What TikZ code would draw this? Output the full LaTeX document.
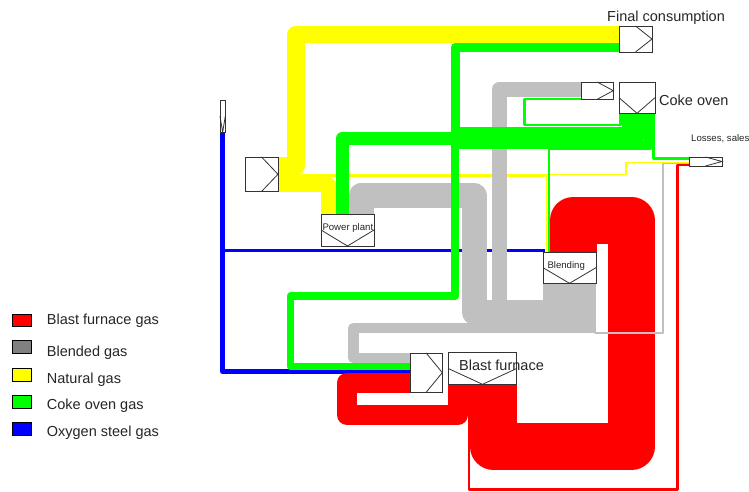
\documentclass[tikz,border=0pt]{standalone}
\usepackage{fontspec}
\setmainfont{Liberation Sans}
\definecolor{sred}{HTML}{FF0000}
\definecolor{sgray}{HTML}{C0C0C0}
\definecolor{syel}{HTML}{FFFF00}
\definecolor{sgreen}{HTML}{00FF00}
\definecolor{sblue}{HTML}{0000FF}
\definecolor{lgray}{HTML}{808080}
\begin{document}
\begin{tikzpicture}[x=1pt,y=-1pt,
  flow/.style={line join=round, line cap=butt},
  box/.style={draw=black!80, line width=0.8pt, fill=white, inner sep=0pt, outer sep=0pt, anchor=north west, rectangle},
  glyph/.style={draw=black!80, line width=0.8pt},
  big/.style={font=\fontsize{14.5}{16}\selectfont, text=black!85, inner sep=0pt, anchor=base west},
  small/.style={font=\fontsize{9.6}{11}\selectfont, text=black!85, inner sep=0pt, anchor=base west},
  legbox/.style={draw=black, line width=0.9pt, inner sep=0pt, outer sep=0pt, anchor=north west, minimum width=18.7pt, minimum height=12.7pt}]
\useasboundingbox (0,0) rectangle (749,491);
\fill[white] (0,0) rectangle (749,491);

% ---- blue (oxygen steel gas)
\draw[flow, sblue, line width=4.5] (222.5,132) -- (222.5,371.5) -- (410,371.5);
\draw[flow, sblue, line width=2.6] (222.5,132) -- (222.5,250.5) -- (545,250.5);

% ---- yellow (natural gas)
\draw[flow, syel, line width=17.5] (277,166) -- (296,166) -- (296,34.5) -- (619,34.5);
\draw[flow, syel, line width=1.5] (277,174.6) -- (626,174.6) -- (626,162.3) -- (689,162.3);
\draw[flow, syel, line width=1.5] (277,176.2) -- (546.5,176.2) -- (546.5,252);
\draw[flow, syel, line width=15] (277,184.5) -- (328,184.5) -- (328,214);

% ---- red (blast furnace gas)
\draw[flow, sred, line width=47] (493.5,384) -- (493.5,446.5) -- (631.5,446.5) -- (631.5,220.5) -- (573,220.5) -- (573,252);
\draw[flow, sred, line width=20] (458,384) -- (458,415) -- (347,415) -- (347,382.5) -- (410,382.5);
\draw[flow, sred, line width=2.5] (469.2,384) -- (469.2,489.5) -- (677.5,489.5) -- (677.5,164.8) -- (689,164.8);

% ---- gray (blended gas)
\fill[sgray] (543,283) rectangle (595.5,333.1);
\draw[flow, sgray, line width=15] (550.5,283) -- (550.5,307.5) -- (499,307.5) -- (499,89.5) -- (581,89.5);
\draw[flow, sgray, line width=25] (570.5,283) -- (570.5,312) -- (474,312) -- (474,195.5) -- (361,195.5) -- (361,214);
\draw[flow, sgray, line width=10.6] (588.5,283) -- (588.5,327.8) -- (353.5,327.8) -- (353.5,358) -- (410,358);
\draw[flow, sgray, line width=1.5] (595.2,283) -- (595.2,333) -- (663,333) -- (663,163.6) -- (689,163.6);

% ---- green (coke oven gas)
\draw[flow, sgreen, line width=2.5] (620.25,113) -- (620.25,125) -- (524.5,125) -- (524.5,98.9) -- (581,98.9);
\draw[flow, sgreen, line width=9] (626,113) -- (626,131) -- (455,131) -- (455,47.5) -- (619,47.5);
\draw[flow, sgreen, line width=13] (637,113) -- (637,138.5) -- (342,138.5) -- (342,214);
\draw[flow, sgreen, line width=7.5] (647.5,113) -- (647.5,145) -- (455,145) -- (455,296) -- (290.5,296) -- (290.5,366.5) -- (410,366.5);
\draw[flow, sgreen, line width=1.7] (651,113) -- (651,149.3) -- (549,149.3) -- (549,252);
\draw[flow, sgreen, line width=3.5] (653.3,113) -- (653.3,158.7) -- (689,158.7);

% ---- boxes
\node[box, minimum width=33, minimum height=34.5] (ng) at (245,157) {};
\draw[glyph] (ng.north) -- (ng.east) -- (ng.south);
\node[box, minimum width=5.3, minimum height=32.3] (osg) at (220,100) {};
\draw[glyph] (osg.west) -- (osg.south) -- (osg.east);
\node[box, minimum width=33, minimum height=26] (fc) at (619,26) {};
\draw[glyph] (fc.north) -- (fc.east) -- (fc.south);
\node[box, minimum width=32.3, minimum height=17.3] (coin) at (581,82) {};
\draw[glyph] (coin.north) -- (coin.east) -- (coin.south);
\node[box, minimum width=36, minimum height=31.3] (co) at (619,82) {};
\draw[glyph] (co.west) -- (co.south) -- (co.east);
\node[box, minimum width=33, minimum height=9] (loss) at (689,157) {};
\draw[glyph] (loss.north) -- (loss.east) -- (loss.south);
\node[box, minimum width=53, minimum height=32] (pp) at (321,214) {};
\draw[glyph] (pp.west) -- (pp.south) -- (pp.east);
\node[box, minimum width=53, minimum height=31.3] (bl) at (543,252) {};
\draw[glyph] (bl.west) -- (bl.south) -- (bl.east);
\node[box, minimum width=32.3, minimum height=39.3] (bfin) at (410,353) {};
\draw[glyph] (bfin.north) -- (bfin.east) -- (bfin.south);
\node[box, minimum width=68.4, minimum height=31.6] (bf) at (448.3,352.7) {};
\draw[glyph] (bf.west) -- (bf.south) -- (bf.east);

% ---- labels
\node[big] (tfc) at (607,21.7) {Final consumption};
\node[big] (tco) at (659,105) {Coke oven};
\node[small] (tloss) at (691,141.5) {Losses, sales};
\node[small] (tpp) at (322.3,230.3) {Power plant};
\node[small] (tbl) at (547.3,268.6) {Blending};
\node[big] (tbf) at (459,370.5) {Blast furnace};

% ---- legend
\node[legbox, fill=sred] (lg1) at (12.3,314) {};
\node[legbox, fill=lgray] (lg2) at (12.3,340.7) {};
\node[legbox, fill=syel] (lg3) at (12.3,368.3) {};
\node[legbox, fill=sgreen] (lg4) at (12.3,395.7) {};
\node[legbox, fill=sblue] (lg5) at (12.3,422.3) {};
\node[big] (lt1) at (46.7,324) {Blast furnace gas};
\node[big] (lt2) at (46.7,356) {Blended gas};
\node[big] (lt3) at (46.7,383) {Natural gas};
\node[big] (lt4) at (46.7,409.7) {Coke oven gas};
\node[big] (lt5) at (46.7,436.2) {Oxygen steel gas};
\end{tikzpicture}
\end{document}
